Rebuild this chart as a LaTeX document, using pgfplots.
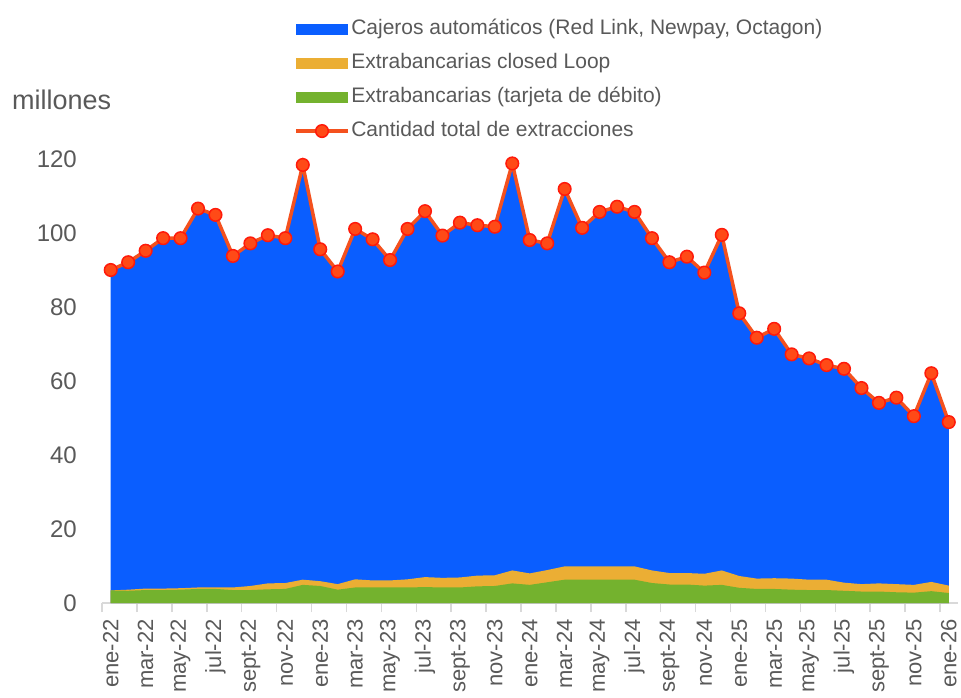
\documentclass[border=0pt]{standalone}
\usepackage{pgfplots}
\usepackage{pgfplotstable}
\pgfplotsset{compat=1.18}
\usepackage{fontspec}
\setmainfont{Liberation Sans}
\definecolor{blueC}{RGB}{10,94,255}
\definecolor{orangeC}{RGB}{235,174,52}
\definecolor{greenC}{RGB}{116,178,46}
\definecolor{lineC}{RGB}{244,81,30}
\definecolor{markC}{RGB}{255,74,23}
\definecolor{markD}{RGB}{255,26,10}
\definecolor{txtC}{RGB}{89,89,89}
\definecolor{axC}{RGB}{217,217,217}

\pgfplotsset{
  boxlegend/.style={legend image code/.code={\fill[##1] (0pt,-5.5pt) rectangle (52pt,5.5pt);}},
  linelegend/.style={legend image code/.code={\draw[mark repeat=2, mark phase=2, ##1] plot coordinates {(0pt,0pt) (26pt,0pt) (52pt,0pt)};}},
}

\pgfplotstableread{
x t c g
0 90.0 3.4 3.4
1 92.1 3.6 3.3
2 95.2 3.9 3.5
3 98.6 3.9 3.5
4 98.6 4.0 3.6
5 106.6 4.2 3.8
6 104.9 4.2 3.8
7 93.8 4.2 3.5
8 97.2 4.6 3.5
9 99.4 5.3 3.7
10 98.6 5.4 3.8
11 118.4 6.3 4.9
12 95.6 5.9 4.6
13 89.6 5.1 3.6
14 101.1 6.4 4.2
15 98.3 6.1 4.2
16 92.7 6.1 4.2
17 101.1 6.4 4.2
18 105.9 7.0 4.3
19 99.3 6.8 4.2
20 102.8 6.9 4.2
21 102.1 7.4 4.5
22 101.7 7.5 4.6
23 118.8 8.8 5.3
24 98.1 8.0 4.9
25 97.2 8.9 5.6
26 111.9 9.9 6.3
27 101.4 9.9 6.3
28 105.7 9.9 6.3
29 107.1 9.9 6.3
30 105.7 9.9 6.3
31 98.6 8.8 5.4
32 92.1 8.1 5.0
33 93.6 8.1 5.0
34 89.3 7.9 4.7
35 99.5 8.8 4.9
36 78.3 7.3 4.1
37 71.7 6.6 3.8
38 74.1 6.7 3.8
39 67.2 6.6 3.6
40 66.1 6.3 3.5
41 64.3 6.3 3.5
42 63.3 5.5 3.3
43 58.1 5.1 3.1
44 54.1 5.3 3.1
45 55.5 5.1 2.9
46 50.5 4.9 2.8
47 62.1 5.7 3.2
48 48.9 4.7 2.7
}\datatable

\begin{document}
\begin{tikzpicture}
\useasboundingbox (-102pt,-94pt) rectangle (859pt,603pt);
\begin{axis}[
  scale only axis,
  width=855.5pt, height=444pt,
  xmin=-0.5, xmax=48.5, ymin=0, ymax=120,
  clip=false,
  axis lines*=left,
  x axis line style={-, draw=axC, line width=1.5pt},
  y axis line style={draw=none},
  ytick={0,20,...,120},
  major tick length=0pt,
  /pgf/number format/assume math mode=true,
  yticklabel style={font=\fontsize{24}{24}\selectfont, text=txtC, anchor=east, inner sep=0pt},
  yticklabel shift=25pt,
  xtick={0,2,...,48},
  xticklabels={ene-22,mar-22,may-22,jul-22,sept-22,nov-22,ene-23,mar-23,may-23,jul-23,sept-23,nov-23,ene-24,mar-24,may-24,jul-24,sept-24,nov-24,ene-25,mar-25,may-25,jul-25,sept-25,nov-25,ene-26},
  xticklabel style={font=\fontsize{22}{22}\selectfont, text=txtC, rotate=90, anchor=east, inner sep=0pt},
  xticklabel shift=16pt,
  extra x ticks={-0.5,1.5,...,47.5},
  extra x tick labels={},
  extra x tick style={major tick length=9pt, tick align=outside, tick style={draw=axC, line width=1.5pt}},
  legend cell align=left,
  legend style={at={(0.2245,1.3145)}, anchor=north west, draw=none, fill=none, inner sep=0pt,
    row sep=15pt, column sep=1.5pt, font=\fontsize{21}{21}\selectfont, text=txtC,
    nodes={inner sep=0pt, text height=15pt, text depth=4pt}},
]
\addplot[draw=none, fill=blueC, boxlegend] table[x=x, y=t] {\datatable} \closedcycle;
\addlegendentry{Cajeros automáticos (Red Link, Newpay, Octagon)}
\addplot[draw=none, fill=orangeC, boxlegend] table[x=x, y=c] {\datatable} \closedcycle;
\addlegendentry{Extrabancarias closed Loop}
\addplot[draw=none, fill=greenC, boxlegend] table[x=x, y=g] {\datatable} \closedcycle;
\addlegendentry{Extrabancarias (tarjeta de débito)}
\addplot[lineC, line width=3.5pt, mark=*, mark size=6.3pt, mark options={fill=markC, draw=markD, line width=1.5pt}, linelegend]
  table[x=x, y=t] {\datatable};
\addlegendentry{Cantidad total de extracciones}
\end{axis}
\node[anchor=base west, text=txtC, font=\fontsize{27}{27}\selectfont, inner sep=0pt] at (-90pt,493pt) {millones};
\end{tikzpicture}
\end{document}
